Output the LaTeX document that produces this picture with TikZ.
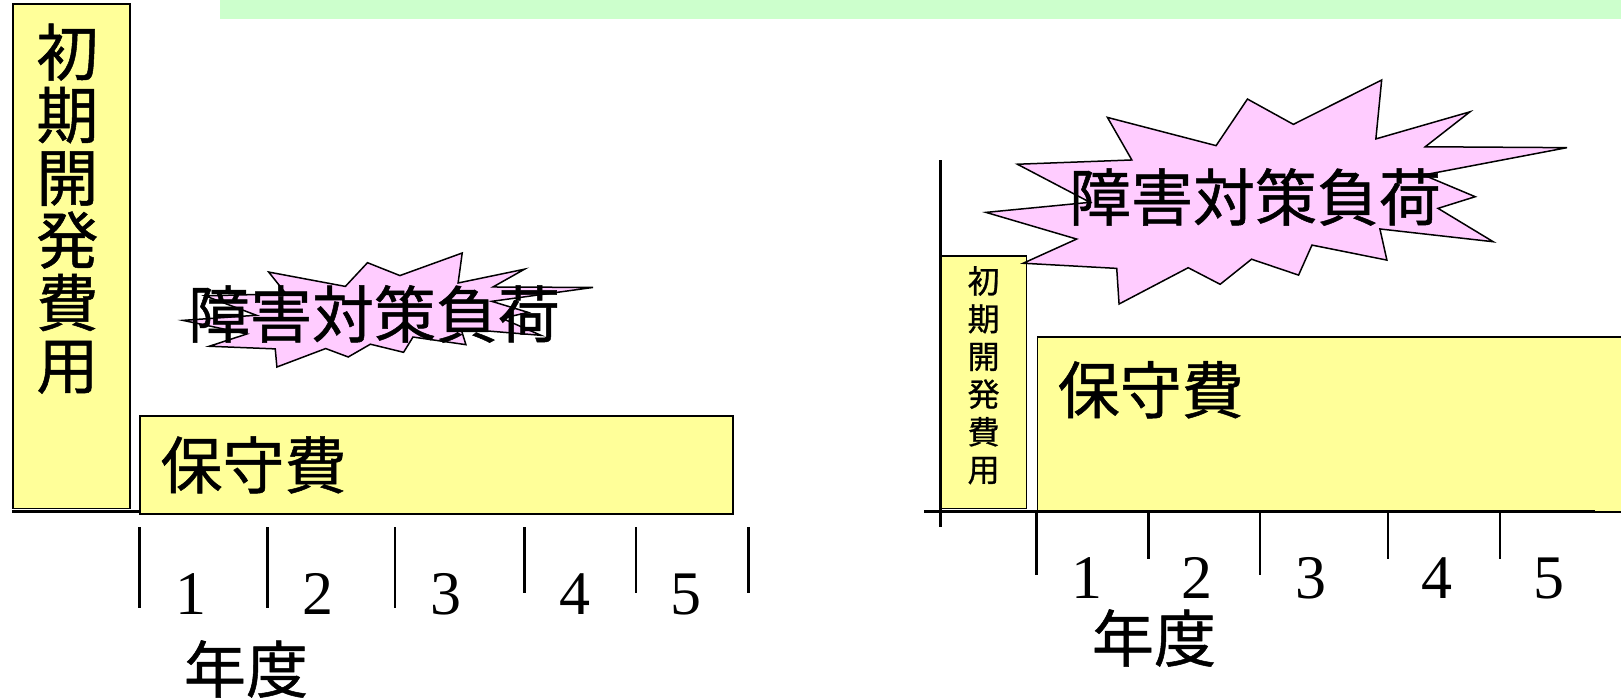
\documentclass[tikz,border=0pt]{standalone}
\usepackage{fontspec}
\setmainfont{Liberation Serif}
\newfontfamily\jpfont{Noto Sans CJK JP}[FakeBold=0.8]
\usetikzlibrary{positioning}

\definecolor{boxyellow}{HTML}{FFFF99}
\definecolor{burstpink}{HTML}{FFCCFF}
\definecolor{bannergreen}{HTML}{CCFFCC}

\begin{document}
\begin{tikzpicture}[x=1pt,y=-1pt,
    costbox/.style={draw,fill=boxyellow,line width=1.5pt,inner sep=0pt,anchor=north west},
    burst/.style={draw,fill=burstpink,line width=1.5pt,line join=miter},
    axis/.style={line width=3pt},
    tick/.style={line width=2.5pt},
    jp/.style={font=\jpfont\fontsize{62}{62.6}\selectfont,inner sep=0pt,align=center},
    jpsmall/.style={font=\jpfont\fontsize{32}{37.7}\selectfont,inner sep=0pt,align=center},
    num/.style={font=\fontsize{62}{62}\selectfont,inner sep=0pt},
    explosion/.pic={
        \draw[burst] (0.209,0.167) -- (0.396,0.293) -- (0.450,0.085) -- (0.529,0.198)
            -- (0.681,0.0) -- (0.671,0.263) -- (0.833,0.142) -- (0.756,0.298)
            -- (1.0,0.302) -- (0.753,0.424) -- (0.842,0.521) -- (0.778,0.573)
            -- (0.873,0.722) -- (0.678,0.665) -- (0.690,0.804) -- (0.561,0.737)
            -- (0.538,0.871) -- (0.457,0.800) -- (0.403,0.912) -- (0.348,0.838)
            -- (0.229,1.0) -- (0.225,0.841) -- (0.064,0.818) -- (0.156,0.710)
            -- (0.0,0.591) -- (0.179,0.546) -- (0.054,0.376) -- (0.251,0.357) -- cycle;
    }]

    \useasboundingbox (0,0) rectangle (1621,697);

    % banner
    \fill[bannergreen] (220,0) rectangle (1621,19);

    % left chart
    \node[costbox,minimum width=117.3pt,minimum height=504.4pt] (init1) at (12,3.3) {};
    \node[jp] (init1txt) [below=20pt of init1.north,xshift=-4pt] {初\\期\\開\\発\\費\\用};

    \node[costbox,minimum width=592.7pt,minimum height=98.3pt] (maint1) at (139.3,415) {};
    \node[jp] (maint1txt) [right=21pt of maint1.west] {保守費};

    \draw[axis] (12,511.7) -- (140,511.7);

    \foreach \x/\y in {139.5/608, 267.5/608, 395/608, 524.5/593, 636/593, 748.5/593}
        {
        \draw[tick] (\x,527) -- (\x,\y);
        }

    \foreach \n/\x in {1/191, 2/318, 3/446, 4/575, 5/686}
        {
        \node[num] (num1-\n) at (\x,594) {\n};
        }

    \node[jp] (year1) at (246,669) {年度};

    \pic[xscale=410,yscale=114] (load1) at (183,253) {explosion};
    \node[jp] (load1txt) at (374,314) {障害対策負荷};

    % right chart
    \node[costbox,minimum width=85.7pt,minimum height=252.7pt] (init2) at (940,255) {};
    \node[jpsmall] (init2txt) [below=11pt of init2.north] {初\\期\\開\\発\\費\\用};

    \node[costbox,minimum width=603.5pt,minimum height=175pt] (maint2) at (1036.5,336) {};
    \node[jp,anchor=north west] (maint2txt) at ([xshift=21pt,yshift=-25pt]maint2.north west) {保守費};

    \draw[axis] (940,160) -- (940,527);
    \draw[axis] (924,511) -- (1595,511);

    \foreach \x/\y in {1036.5/575, 1148.5/559, 1260/575, 1388/559, 1500/559}
        {
        \draw[tick] (\x,511) -- (\x,\y);
        }

    \foreach \n/\x in {1/1087, 2/1197, 3/1311, 4/1437, 5/1549}
        {
        \node[num] (num2-\n) at (\x,578) {\n};
        }

    \node[jp] (year2) at (1154,638) {年度};

    \pic[xscale=581,yscale=224] (load2) at (986,80) {explosion};
    \node[jp] (load2txt) at (1255,197) {障害対策負荷};

\end{tikzpicture}
\end{document}
